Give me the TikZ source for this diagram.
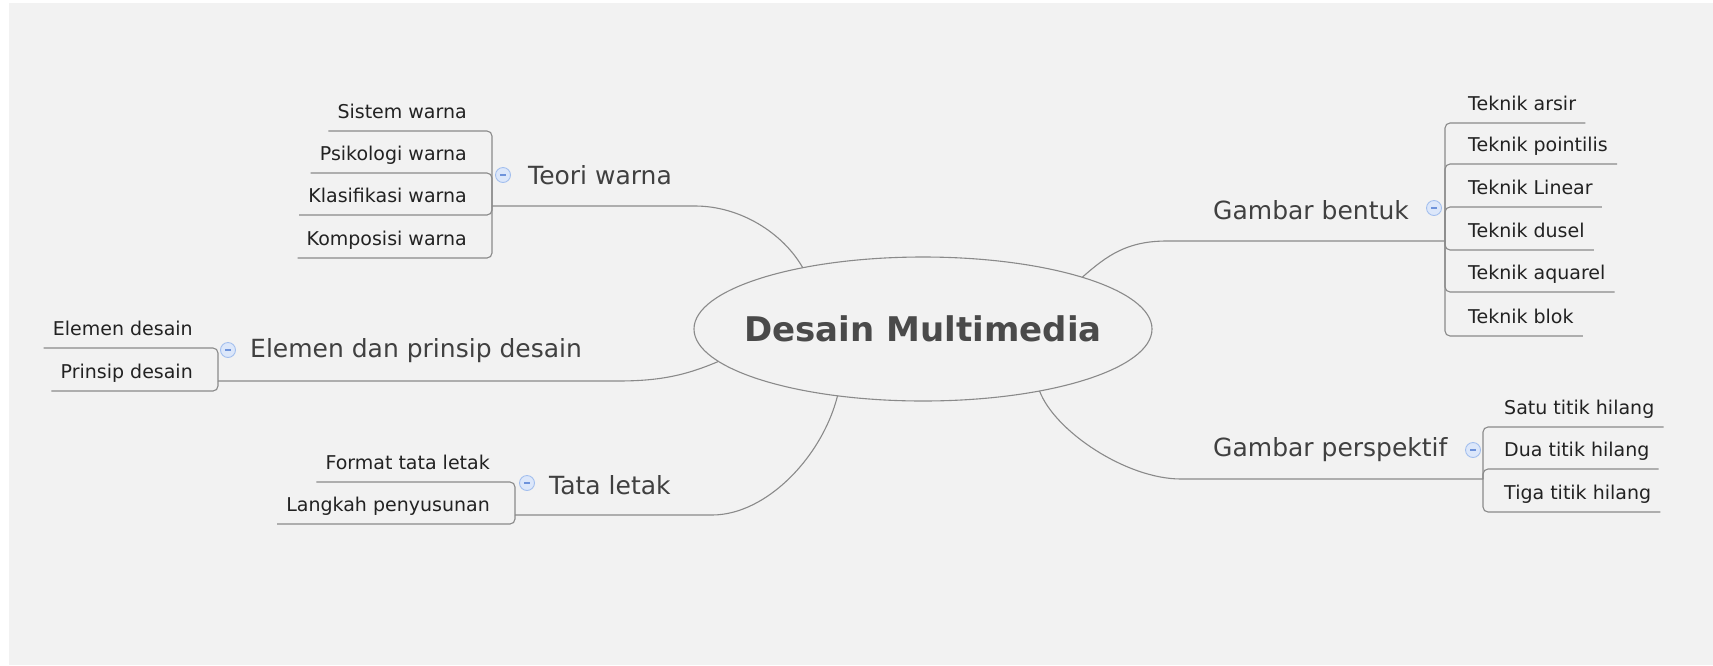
\documentclass[tikz,border=0pt]{standalone}
\usepackage{fontspec}
\setmainfont{DejaVu Sans}
\usetikzlibrary{shapes.geometric}
\definecolor{paper}{HTML}{F2F2F2}
\definecolor{wire}{HTML}{8A8A8A}
\definecolor{ink}{HTML}{222222}
\definecolor{topicink}{HTML}{404040}
\definecolor{hubink}{HTML}{4A4A4A}
\definecolor{knobfill}{HTML}{DCE7FA}
\definecolor{knobline}{HTML}{A3BFEE}
\definecolor{knobbar}{HTML}{6E93DB}
\begin{document}
\begin{tikzpicture}[x=1pt, y=-1pt,
    hub/.style={ellipse, draw=wire, line width=1.1pt, minimum width=458pt, minimum height=144pt, inner sep=0pt, outer sep=0pt},
    hubtext/.style={font=\fontsize{34}{40}\selectfont\bfseries, text=hubink},
    topic/.style={anchor=base west, inner sep=0pt, font=\fontsize{25}{30}\selectfont, text=topicink},
    leaf/.style={inner xsep=9pt, inner ysep=7.5pt, text height=14pt, text depth=5pt, font=\fontsize{19}{23}\selectfont, text=ink},
    lleaf/.style={leaf, anchor=south east},
    rleaf/.style={leaf, anchor=south west},
    knob/.style={circle, draw=knobline, fill=knobfill, line width=0.9pt, minimum size=15pt, inner sep=0pt},
    branch/.style={draw=wire, line width=1.1pt, rounded corners=5pt}]
        \useasboundingbox (0,0) rectangle (1713,665);
        \fill[white] (0,0) rectangle (1713,665);
        \fill[paper] (9,3) rectangle (1713,665);

        \node[hub] (center) at (923,329) {};
        \node[hubtext] (title) at (center) {Desain Multimedia};

        \coordinate (tw-b) at (492,206);
        \coordinate (tw-e) at (690,206);
        \node[topic] (tw) at (528,184) {Teori warna};
        \node[knob] (tw-k) at (503,175) {\color{knobbar}\rule{6pt}{1.3pt}};
        \node[lleaf] (tw1) at (476,131) {Sistem warna};
        \node[lleaf] (tw2) at (476,173) {Psikologi warna};
        \node[lleaf] (tw3) at (476,215) {Klasifikasi warna};
        \node[lleaf] (tw4) at (476,258) {Komposisi warna};
        \draw[branch] (center.153) .. controls +(-20,-35) and +(50,0) .. (tw-e) -- (tw-b);
        \draw[branch] (tw1.south west) -| (tw-b);
        \draw[branch] (tw2.south west) -| (tw-b);
        \draw[branch] (tw3.south west) -| (tw-b);
        \draw[branch] (tw4.south west) -| (tw-b);

        \coordinate (ep-b) at (218,381);
        \coordinate (ep-e) at (612,381);
        \node[topic] (ep) at (250,357) {Elemen dan prinsip desain};
        \node[knob] (ep-k) at (228,350) {\color{knobbar}\rule{6pt}{1.3pt}};
        \node[lleaf] (ep1) at (202,348) {Elemen desain};
        \node[lleaf] (ep2) at (202,391) {Prinsip desain};
        \draw[branch] (center.189) .. controls +(-35,15) and +(45,0) .. (ep-e) -- (ep-b);
        \draw[branch] (ep1.south west) -| (ep-b);
        \draw[branch] (ep2.south west) -| (ep-b);

        \coordinate (tl-b) at (515,515);
        \coordinate (tl-e) at (707,515);
        \node[topic] (tl) at (549,494) {Tata letak};
        \node[knob] (tl-k) at (527,483) {\color{knobbar}\rule{6pt}{1.3pt}};
        \node[lleaf] (tl1) at (499,482) {Format tata letak};
        \node[lleaf] (tl2) at (499,524) {Langkah penyusunan};
        \draw[branch] (center.218) .. controls +(-15,60) and +(60,0) .. (tl-e) -- (tl-b);
        \draw[branch] (tl1.south west) -| (tl-b);
        \draw[branch] (tl2.south west) -| (tl-b);

        \coordinate (gb-b) at (1445,241);
        \coordinate (gb-e) at (1172,241);
        \node[topic] (gb) at (1213,219) {Gambar bentuk};
        \node[knob] (gb-k) at (1434,208) {\color{knobbar}\rule{6pt}{1.3pt}};
        \node[rleaf] (gb1) at (1459,123) {Teknik arsir};
        \node[rleaf] (gb2) at (1459,164) {Teknik pointilis};
        \node[rleaf] (gb3) at (1459,207) {Teknik Linear};
        \node[rleaf] (gb4) at (1459,250) {Teknik dusel};
        \node[rleaf] (gb5) at (1459,292) {Teknik aquarel};
        \node[rleaf] (gb6) at (1459,336) {Teknik blok};
        \draw[branch] (center.18) .. controls +(25,-22) and +(-45,0) .. (gb-e) -- (gb-b);
        \draw[branch] (gb1.south east) -| (gb-b);
        \draw[branch] (gb2.south east) -| (gb-b);
        \draw[branch] (gb3.south east) -| (gb-b);
        \draw[branch] (gb4.south east) -| (gb-b);
        \draw[branch] (gb5.south east) -| (gb-b);
        \draw[branch] (gb6.south east) -| (gb-b);

        \coordinate (gp-b) at (1483,479);
        \coordinate (gp-e) at (1186,479);
        \node[topic] (gp) at (1213,456) {Gambar perspektif};
        \node[knob] (gp-k) at (1473,450) {\color{knobbar}\rule{6pt}{1.3pt}};
        \node[rleaf] (gp1) at (1495,427) {Satu titik hilang};
        \node[rleaf] (gp2) at (1495,469) {Dua titik hilang};
        \node[rleaf] (gp3) at (1495,512) {Tiga titik hilang};
        \draw[branch] (center.-28) .. controls +(15,40) and +(-60,0) .. (gp-e) -- (gp-b);
        \draw[branch] (gp1.south east) -| (gp-b);
        \draw[branch] (gp2.south east) -| (gp-b);
        \draw[branch] (gp3.south east) -| (gp-b);
    \end{tikzpicture}
\end{document}
